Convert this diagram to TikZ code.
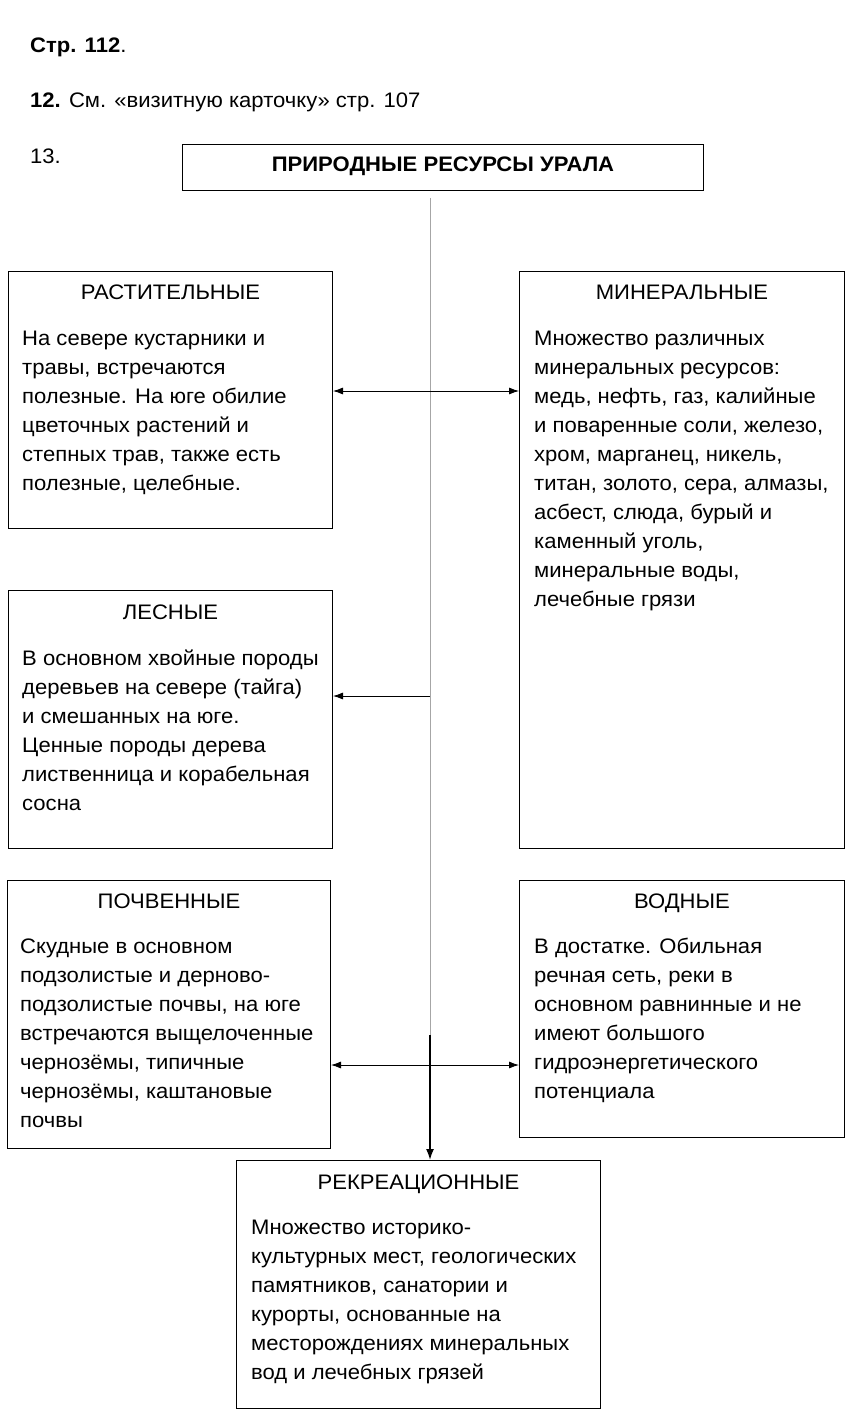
\documentclass[tikz,border=0pt]{standalone}
\usepackage{fontspec}
\setmainfont{Liberation Sans}[FakeStretch=1.05]
\usetikzlibrary{positioning,calc,arrows.meta}
\tikzset{
  resbox/.style={draw, line width=1pt, anchor=north west, inner sep=0pt},
  headtext/.style={anchor=base, inner sep=0pt, font=\fontsize{21}{29}\selectfont},
  bodytext/.style={anchor=north west, inner sep=0pt, align=left, font=\fontsize{21}{29}\selectfont},
  linetext/.style={anchor=base west, inner sep=0pt, font=\fontsize{21}{29}\selectfont},
  biarrow/.style={{Latex[length=10pt,width=7pt]}-{Latex[length=10pt,width=7pt]}, line width=0.8pt},
  leftarrow/.style={{Latex[length=10pt,width=7pt]}-, line width=0.8pt},
}
\begin{document}
\begin{tikzpicture}[x=1pt,y=-1pt]
  \useasboundingbox[fill=white] (0,0) rectangle (856,1423);

  \node[linetext] (page) at (30,53) {\textbf{Стр. 112}.};
  \node[linetext] (task12) at (30,108) {\textbf{12.} См. «визитную карточку» стр. 107};
  \node[linetext] (task13) at (30,164) {13.};

  \node[resbox, minimum width=521pt, minimum height=46pt] (title) at (182,144) {};
  \node[headtext, font=\fontsize{21}{29}\selectfont\bfseries] (titletxt) at ($(title.north)+(0,28)$) {ПРИРОДНЫЕ РЕСУРСЫ УРАЛА};

  \node[resbox, minimum width=324pt, minimum height=257pt] (rast) at (8,271) {};
  \node[headtext] (rasthead) at ($(rast.north)+(0,28)$) {РАСТИТЕЛЬНЫЕ};
  \node[bodytext] (rasttxt) at ($(rast.north west)+(14,54)$) {\strut На севере кустарники и\\травы, встречаются\\полезные. На юге обилие\\цветочных растений и\\степных трав, также есть\\полезные, целебные.};

  \node[resbox, minimum width=325pt, minimum height=577pt] (miner) at (519,271) {};
  \node[headtext] (minerhead) at ($(miner.north)+(0,28)$) {МИНЕРАЛЬНЫЕ};
  \node[bodytext] (minertxt) at ($(miner.north west)+(15,54)$) {\strut Множество различных\\минеральных ресурсов:\\медь, нефть, газ, калийные\\и поваренные соли, железо,\\хром, марганец, никель,\\титан, золото, сера, алмазы,\\асбест, слюда, бурый и\\каменный уголь,\\минеральные воды,\\лечебные грязи};

  \node[resbox, minimum width=324pt, minimum height=258pt] (les) at (8,590) {};
  \node[headtext] (leshead) at ($(les.north)+(0,29)$) {ЛЕСНЫЕ};
  \node[bodytext] (lestxt) at ($(les.north west)+(14,55)$) {\strut В основном хвойные породы\\деревьев на севере (тайга)\\и смешанных на юге.\\Ценные породы дерева\\лиственница и корабельная\\сосна};

  \node[resbox, minimum width=323pt, minimum height=268pt] (poch) at (7,880) {};
  \node[headtext] (pochhead) at ($(poch.north)+(0,28)$) {ПОЧВЕННЫЕ};
  \node[bodytext] (pochtxt) at ($(poch.north west)+(13,53)$) {\strut Скудные в основном\\подзолистые и дерново-\\подзолистые почвы, на юге\\встречаются выщелоченные\\чернозёмы, типичные\\чернозёмы, каштановые\\почвы};

  \node[resbox, minimum width=325pt, minimum height=257pt] (vod) at (519,880) {};
  \node[headtext] (vodhead) at ($(vod.north)+(0,28)$) {ВОДНЫЕ};
  \node[bodytext] (vodtxt) at ($(vod.north west)+(15,53)$) {\strut В достатке. Обильная\\речная сеть, реки в\\основном равнинные и не\\имеют большого\\гидроэнергетического\\потенциала};

  \node[resbox, minimum width=364pt, minimum height=248pt] (rekr) at (236,1160) {};
  \node[headtext] (rekrhead) at ($(rekr.north)+(0,29)$) {РЕКРЕАЦИОННЫЕ};
  \node[bodytext] (rekrtxt) at ($(rekr.north west)+(15,54)$) {\strut Множество историко-\\культурных мест, геологических\\памятников, санатории и\\курорты, основанные на\\месторождениях минеральных\\вод и лечебных грязей};

  \coordinate (trunk) at (430,198);
  \coordinate (trunkend) at (430,1035);
  \coordinate (ra) at (430,391);
  \coordinate (la) at (430,696);
  \coordinate (pa) at (430,1065);

  \draw[gray!70, line width=1pt] (trunk) -- (trunkend);
  \draw[-{Latex[length=11pt,width=8pt]}, line width=1.6pt] (trunkend) -- (trunk |- rekr.north);
  \draw[biarrow] (rast.east |- ra) -- (miner.west |- ra);
  \draw[leftarrow] (les.east |- la) -- (la);
  \draw[biarrow] (poch.east |- pa) -- (vod.west |- pa);
\end{tikzpicture}
\end{document}
